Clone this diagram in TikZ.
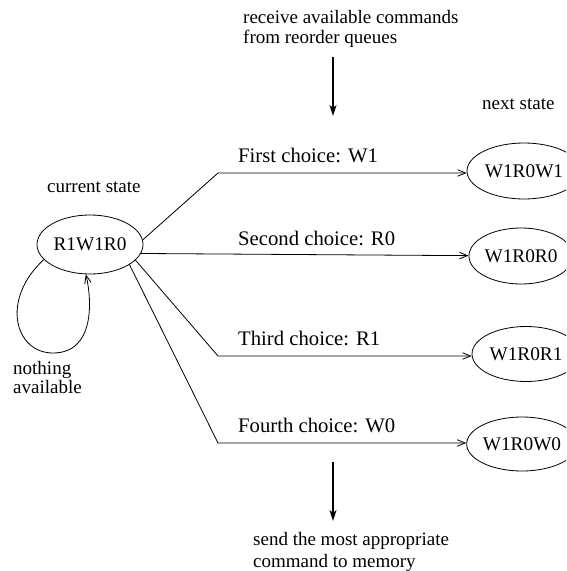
\documentclass[tikz,border=0pt]{standalone}
\usepackage{fontspec}
\setmainfont{Liberation Serif}
\usetikzlibrary{arrows.meta,shapes.geometric}
\begin{document}
\begin{tikzpicture}[x=1pt,y=-1pt,
  txt/.style={inner sep=0pt,anchor=base west,align=left,font=\fontsize{19}{20}\selectfont},
  lbl/.style={inner sep=0pt,anchor=base west,font=\fontsize{20.7}{22}\selectfont},
  state/.style={draw,ellipse,line width=0.8pt,inner sep=0pt,font=\fontsize{19.3}{21}\selectfont},
  choice/.style={draw,line width=0.8pt,-{Straight Barb[length=8pt,width=6.5pt]}},
  flow/.style={draw,line width=1.6pt,-{Stealth[length=11pt,width=7pt,inset=3pt]}}]
\useasboundingbox (0,0) rectangle (566,571);
\begin{scope}
\clip (0,0) rectangle (566,571);
% states
\node[state,minimum width=106pt,minimum height=59pt] (src) at (90,244.5) {R1W1R0};
\node[state,minimum width=114pt,minimum height=56pt] (t1) at (524,171) {W1R0W1};
\node[state,minimum width=104pt,minimum height=56pt] (t2) at (521,256) {W1R0R0};
\node[state,minimum width=108pt,minimum height=55pt] (t3) at (526,354) {W1R0R1};
\node[state,minimum width=100pt,minimum height=54pt] (t4) at (522,444) {W1R0W0};
\end{scope}
% texts
\node[txt,font=\fontsize{19}{20}\selectfont] (rx) at (243,43) {receive available commands\\from reorder queues};
\node[txt] (ns) at (482,109) {next state};
\node[txt] (cs) at (47,192) {current state};
\node[txt,font=\fontsize{19}{18.5}\selectfont] (na) at (13,393) {nothing\\available};
\node[txt,font=\fontsize{19}{22}\selectfont] (sd) at (253,567) {send the most appropriate\\command to memory};
% choice labels
\node[lbl] (l1) at (238,162) {First choice: W1};
\node[lbl] (l2) at (238,245) {Second choice: R0};
\node[lbl] (l3) at (238,345) {Third choice: R1};
\node[lbl] (l4) at (238,432) {Fourth choice: W0};
% corner points
\coordinate (c1) at (218,173);
\coordinate (c3) at (218,356);
\coordinate (c4) at (218,443);
% choices
\draw[choice] (src.5) -- (c1) -- (c1 -| t1.west);
\draw[choice] (src.-10.5) -- (t2);
\draw[choice] (src.-19.4) -- (c3) -- (c3 -| t3.west);
\draw[choice] (src.-27) -- (c4) -- (c4 -| t4.west);
% self loop
\draw[choice] (src.198) .. controls (0,300) and (15,353) .. (53,353)
  .. controls (95,353) and (92,300) .. (src.-98);
% flow arrows
\coordinate (a1) at (333,57);
\coordinate (a2) at (333,116);
\coordinate (b1) at (333,462);
\coordinate (b2) at (333,521);
\draw[flow] (a1) -- (a2);
\draw[flow] (b1) -- (b2);
\end{tikzpicture}
\end{document}
